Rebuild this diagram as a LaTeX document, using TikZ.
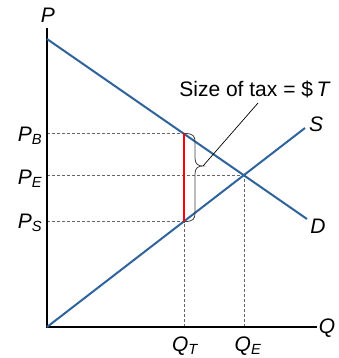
\documentclass[tikz,border=0pt]{standalone}
\usepackage{fontspec}
\setmainfont{Liberation Sans}
\begin{document}
\begin{tikzpicture}[x=1pt,y=-1pt,
  curve/.style={draw={rgb,255:red,47;green,99;blue,155},line width=2pt},
  axis/.style={draw=black,line width=1.4pt},
  guide/.style={draw=gray!80!black,line width=0.8pt,dash pattern=on 3pt off 2pt},
  lbl/.style={font=\fontsize{21}{25}\selectfont\itshape,inner sep=0pt},
  taxline/.style={draw=red,line width=2pt}]
\useasboundingbox (0,0) rectangle (339,358);
% points
\coordinate (O) at (47,327);
\coordinate (Ytop) at (47,28);
\coordinate (Xend) at (317,327);
\coordinate (Dstart) at (47,39);
\coordinate (Dend) at (307,219);
\coordinate (Sstart) at (47,327);
\coordinate (Send) at (305,128);
\coordinate (B) at (184,133.5);
\coordinate (Sp) at (184,221.5);
\coordinate (E) at (244.5,175.5);
\coordinate (PB) at (47,133.5);
\coordinate (PE) at (47,175.5);
\coordinate (PS) at (47,221.5);
\coordinate (QT) at (184,327);
\coordinate (QE) at (244.5,327);
\coordinate (tip) at (203,166);
\coordinate (lead) at (258,103);
% guides
\draw[guide] (PB) -- (B);
\draw[guide] (PE) -- (E);
\draw[guide] (PS) -- (Sp);
\draw[guide] (QT) -- (Sp);
\draw[guide] (QE) -- (E);
% axes
\draw[axis] (Ytop) -- (O) -- (Xend);
% curves
\draw[curve] (Dstart) -- (Dend);
\draw[curve] (Sstart) -- (Send);
% tax
\draw[taxline] (B) -- (Sp);
% brace
\draw[black!75,line width=0.8pt] (185,133.5) .. controls (193,133.5) and (195,136) .. (195,142)
  -- (195,158) .. controls (195,164) and (198,166) .. (tip)
  .. controls (198,166) and (195,168) .. (195,174)
  -- (195,213) .. controls (195,219) and (193,221.5) .. (185,221.5);
\draw[black,line width=0.7pt] (tip) -- (lead);
% labels
\node[lbl,font=\fontsize{21}{25}\selectfont] (tax) at (255,89) {Size of tax = \$\,\textit{T}};
\node[lbl] (Plab) at (48,15) {P};
\node[lbl] (Qlab) at (327,328) {Q};
\node[lbl] (Slab) at (316,124) {S};
\node[lbl] (Dlab) at (318,226) {D};
\node[lbl] (PBlab) at (30,136) {P\textsubscript{B}};
\node[lbl] (PElab) at (30,179) {P\textsubscript{E}};
\node[lbl] (PSlab) at (30,223) {P\textsubscript{S}};
\node[lbl] (QTlab) at (185,346) {Q\textsubscript{T}};
\node[lbl] (QElab) at (248,346) {Q\textsubscript{E}};
\end{tikzpicture}
\end{document}
